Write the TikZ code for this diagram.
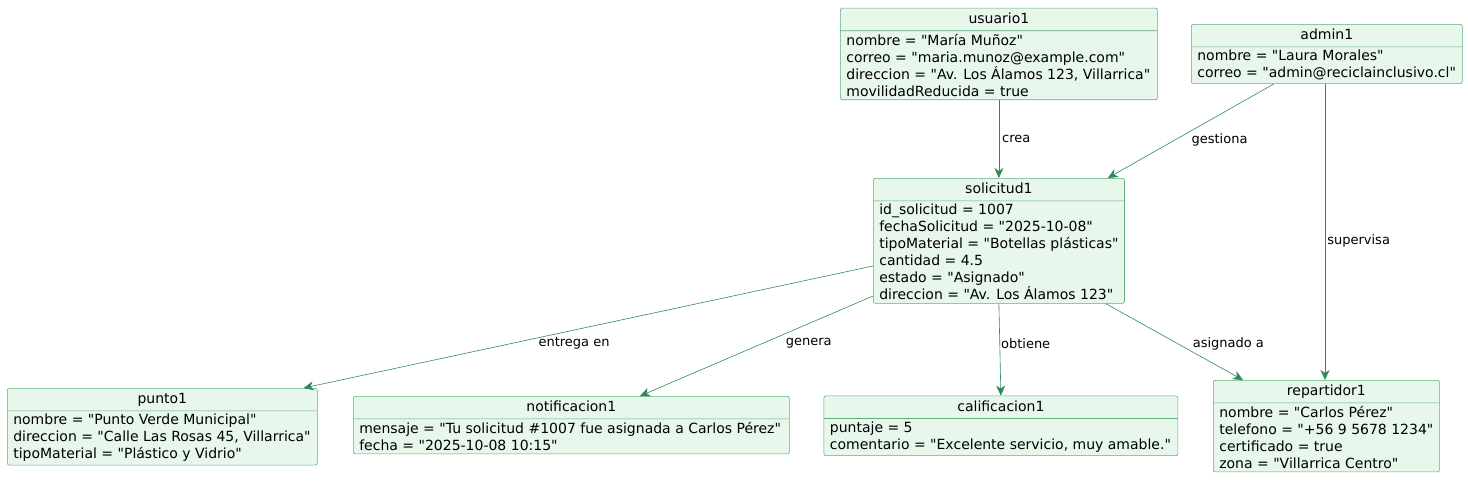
\documentclass[tikz,border=0pt]{standalone}
\usepackage{fontspec}
\setmainfont{DejaVu Sans}[Ligatures=TeXOff]
\usetikzlibrary{positioning}
\usetikzlibrary{shapes.multipart}
\usetikzlibrary{arrows.meta}
\definecolor{objfill}{HTML}{E8F7EC}
\definecolor{objline}{HTML}{5DAE7B}
\definecolor{reledge}{HTML}{2E8B57}
\newcommand{\objtitle}[1]{\rule[-4pt]{0pt}{16pt}#1}

\begin{document}
\begin{tikzpicture}[
    x=1pt, y=-1pt,
    node distance=78pt and 0pt,
    objbox/.style={draw=objline, fill=objfill, line width=0.6pt, rounded corners=2pt,
      rectangle split, rectangle split parts=2,
      rectangle split part align={center,left}, align=left,
      inner xsep=6pt, inner ysep=3pt,
      font=\fontsize{14}{17}\selectfont},
    rel/.style={draw=reledge, line width=0.6pt, -{Stealth[length=10pt,width=9pt,inset=3pt]}},
    lbl/.style={font=\fontsize{13}{15}\selectfont, inner sep=0pt, anchor=west}
    ]
    \useasboundingbox (0,0) rectangle (1468,480);

    \node[objbox, minimum width=251pt, anchor=north west] (sol) at (873,178)
      {\objtitle{solicitud1}\nodepart{two}id\_solicitud = 1007\\fechaSolicitud = "2025-10-08"\\tipoMaterial = "Botellas plásticas"\\cantidad = 4.5\\estado = "Asignado"\\direccion = "Av. Los Álamos 123"};
    \node[objbox, minimum width=317pt, above=of sol] (usu)
      {\objtitle{usuario1}\nodepart{two}nombre = "María Muñoz"\\correo = "maria.munoz@example.com"\\direccion = "Av. Los Álamos 123, Villarrica"\\movilidadReducida = true};
    \node[objbox, minimum width=271pt, anchor=north west] (adm) at (1191,24)
      {\objtitle{admin1}\nodepart{two}nombre = "Laura Morales"\\correo = "admin@reciclainclusivo.cl"};
    \node[objbox, minimum width=310pt, anchor=north west] (pun) at (7,388)
      {\objtitle{punto1}\nodepart{two}nombre = "Punto Verde Municipal"\\direccion = "Calle Las Rosas 45, Villarrica"\\tipoMaterial = "Plástico y Vidrio"};
    \node[objbox, minimum width=436pt, anchor=north west] (notif) at (353,396)
      {\objtitle{notificacion1}\nodepart{two}mensaje = "Tu solicitud \#1007 fue asignada a Carlos Pérez"\\fecha = "2025-10-08 10:15"};
    \node[objbox, minimum width=354pt, below=92pt of sol, xshift=2pt] (cal)
      {\objtitle{calificacion1}\nodepart{two}puntaje = 5\\comentario = "Excelente servicio, muy amable."};
    \node[objbox, minimum width=225pt, anchor=north west] (rep) at (1213,380)
      {\objtitle{repartidor1}\nodepart{two}nombre = "Carlos Pérez"\\telefono = "+56 9 5678 1234"\\certificado = true\\zona = "Villarrica Centro"};

    \path (usu.south) edge[rel] node[lbl, pos=0.5, xshift=3pt] {crea} (sol.north)
    ([xshift=83pt]adm.south west) edge[rel] node[lbl, pos=0.6, xshift=17pt] {gestiona} ([xshift=-17pt]sol.north east)
    ([xshift=134pt]adm.south west) edge[rel] node[lbl, pos=0.53, xshift=2pt] {supervisa} ([xshift=112pt]rep.north west)
    ([yshift=-88pt]sol.north west) edge[rel] node[lbl, pos=0.63, xshift=24pt] {entrega en} ([xshift=-14pt]pun.north east)
    ([yshift=-118pt]sol.north west) edge[rel] node[lbl, pos=0.47, xshift=22pt] {genera} ([xshift=287pt]notif.north west)
    (sol.south) edge[rel] node[lbl, pos=0.44, xshift=1pt] {obtiene} (cal.north)
    ([xshift=-19pt]sol.south east) edge[rel] node[lbl, pos=0.53, xshift=14pt] {asignado a} ([xshift=30pt]rep.north west)
    ;

  \end{tikzpicture}
\end{document}
